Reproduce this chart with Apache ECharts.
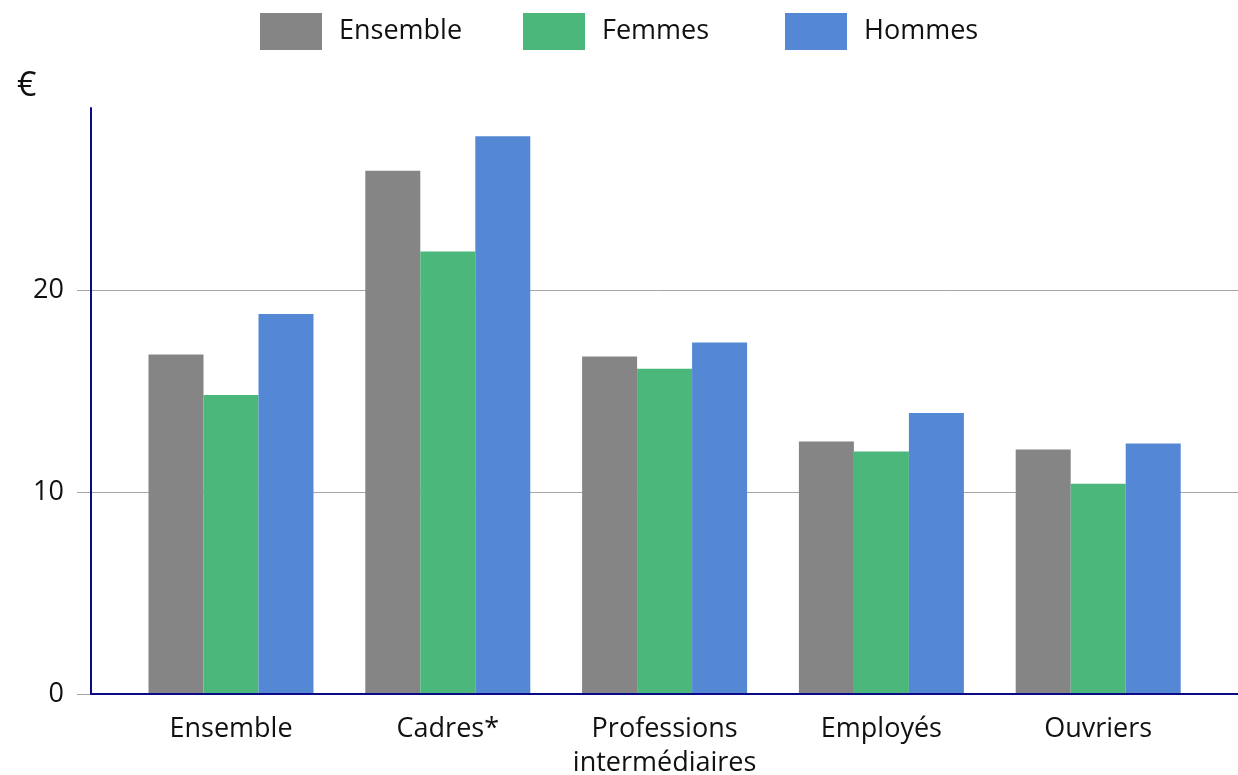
<!DOCTYPE html>
<html>
<head>
<meta charset="utf-8">
<script src="https://cdn.jsdelivr.net/npm/echarts@6/dist/echarts.min.js"></script>
<style>
html,body{margin:0;padding:0;background:#fff;}
#chart{width:1238px;height:775px;}
</style>
</head>
<body>
<div id="chart"></div>
<script>
var categories = ['Ensemble', 'Cadres*', 'Professions\nintermédiaires', 'Employés', 'Ouvriers'];
var ensemble = [16.8, 25.9, 16.7, 12.5, 12.1];
var femmes = [14.8, 21.9, 16.1, 12.0, 10.4];
var hommes = [18.8, 27.6, 17.4, 13.9, 12.4];
var seriesNames = ['Ensemble', 'Femmes', 'Hommes'];
var yTicks = [0, 10, 20];
var yMax = 29;

var FONT = '"Open Sans", "Noto Sans", sans-serif';
var NAVY = '#0a0a88';
var GRID_GRAY = '#a6a6a6';
var legendLefts = [255, 518, 780];

function makeLegend(name, left) {
  return {
    top: 8, left: left,
    itemWidth: 62, itemHeight: 37,
    icon: 'rect',
    textStyle: {fontSize: 27, color: '#111', fontFamily: FONT, padding: [0, 0, 0, 12]},
    data: [name]
  };
}

var chart = echarts.init(document.getElementById('chart'), null, {renderer: 'canvas'});
chart.setOption({
  animation: false,
  textStyle: {fontFamily: FONT},
  title: {
    text: '€', left: 12, top: 64,
    textStyle: {fontSize: 34, fontWeight: 'normal', color: '#111', fontFamily: FONT}
  },
  legend: seriesNames.map(function (n, i) { return makeLegend(n, legendLefts[i]); }),
  grid: [
    {left: 91, right: 0, top: 108, bottom: 81, outerBoundsMode: 'none', containLabel: false},
    {left: 122.6, right: 31.4, top: 108, bottom: 81, outerBoundsMode: 'none', containLabel: false},
    {left: 77, right: 0, top: 108, bottom: 81, outerBoundsMode: 'none', containLabel: false}
  ],
  xAxis: [
    {
      gridIndex: 0, type: 'value', min: 0, max: 1, z: 10,
      axisLine: {show: true, onZero: false, lineStyle: {color: NAVY, width: 2}},
      axisTick: {show: false}, axisLabel: {show: false}, splitLine: {show: false}
    },
    {
      gridIndex: 1, type: 'category', data: categories,
      axisLine: {show: false}, axisTick: {show: false},
      axisLabel: {fontSize: 27, color: '#111', fontFamily: FONT, margin: 18, lineHeight: 34, interval: 0}
    },
    {
      gridIndex: 2, type: 'value', min: 0, max: 1, show: false, splitLine: {show: false}
    }
  ],
  yAxis: [
    {
      gridIndex: 0, type: 'value', min: 0, max: yMax, interval: 10, z: 10,
      axisLine: {show: true, lineStyle: {color: NAVY, width: 2}},
      axisTick: {show: false, customValues: yTicks},
      axisLabel: {fontSize: 27, color: '#111', fontFamily: FONT, margin: 27, customValues: yTicks},
      splitLine: {show: false}
    },
    {
      gridIndex: 1, type: 'value', min: 0, max: yMax,
      show: false, splitLine: {show: false}
    },
    {
      gridIndex: 2, type: 'value', min: 0, max: yMax, interval: 10,
      axisLine: {show: false},
      axisTick: {show: false, customValues: yTicks},
      axisLabel: {show: false, customValues: yTicks},
      splitLine: {show: true, lineStyle: {color: GRID_GRAY, width: 1}}
    }
  ],
  series: [
    {name: seriesNames[0], type: 'bar', xAxisIndex: 1, yAxisIndex: 1, data: ensemble,
     barWidth: 55, barGap: '0%', itemStyle: {color: '#858585'}},
    {name: seriesNames[1], type: 'bar', xAxisIndex: 1, yAxisIndex: 1, data: femmes,
     barWidth: 55, barGap: '0%', itemStyle: {color: '#4bb77b'}},
    {name: seriesNames[2], type: 'bar', xAxisIndex: 1, yAxisIndex: 1, data: hommes,
     barWidth: 55, barGap: '0%', itemStyle: {color: '#5487d4'}}
  ]
});
</script>
</body>
</html>
